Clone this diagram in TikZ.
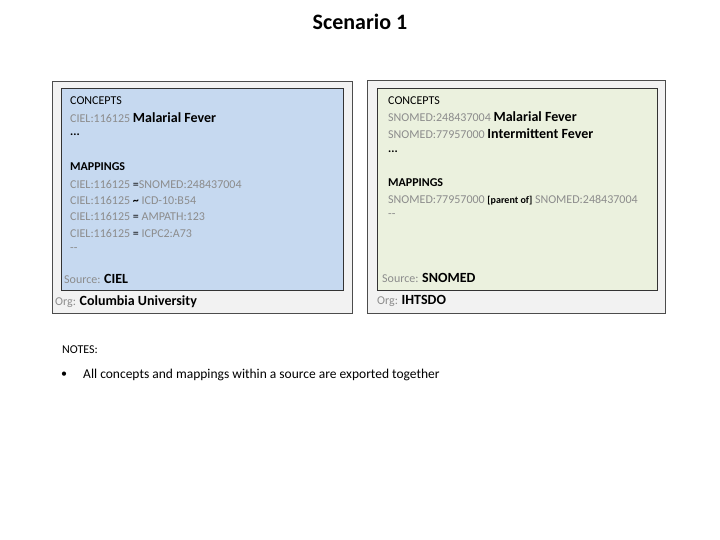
\documentclass[tikz,border=0pt]{standalone}
\usepackage{fontspec}
\setmainfont{Carlito}
\definecolor{gtext}{HTML}{8C8C8C}
\definecolor{bluefill}{HTML}{C6D9F0}
\definecolor{greenfill}{HTML}{EBF1DE}
\definecolor{outerfill}{HTML}{F2F2F2}
\begin{document}
\begin{tikzpicture}[x=1pt,y=-1pt,
  outer/.style={draw=black!70,fill=outerfill,line width=0.6pt},
  inner/.style={draw=black!80,fill=#1,line width=0.8pt},
  txt/.style={anchor=west,inner sep=0pt,font=\fontsize{12}{14}\selectfont},
  g/.style={txt,text=gtext},
  hd/.style={txt,font=\fontsize{12}{14}\selectfont}]
\newcommand{\bg}[1]{\textcolor{black}{\fontsize{14}{16}\selectfont\bfseries #1}}
\useasboundingbox (0,0) rectangle (720,540);
\node[font=\fontsize{22}{26}\selectfont\bfseries] (title) at (360,22) {Scenario 1};
% left
\draw[outer] (52,81) rectangle (352,313);
\draw[inner=bluefill] (61,88) rectangle (343,290);
\node[hd] (lc) at (70,101) {CONCEPTS};
\node[g] (lc1) at (70,118) {CIEL:116125 \bg{Malarial Fever}};
\node[hd] (ld) at (70,135) {\textbf{...}};
\node[hd] (lm) at (70,167) {\textbf{MAPPINGS}};
\node[g] (lm1) at (70,184) {CIEL:116125 \textcolor{black}{=}SNOMED:248437004};
\node[g] (lm2) at (70,200) {CIEL:116125 \textcolor{black}{\textbf{\textasciitilde}} ICD-10:B54};
\node[g] (lm3) at (70,216) {CIEL:116125 \textcolor{black}{=} AMPATH:123};
\node[g] (lm4) at (70,233) {CIEL:116125 \textcolor{black}{=} ICPC2:A73};
\node[g] (lm5) at (70,250) {{-}{-}};
\node[g] (ls) at (64,279) {Source: \bg{CIEL}};
\node[g] (lo) at (55,302) {Org: \bg{Columbia University}};
% right
\draw[outer] (367,80) rectangle (665,313);
\draw[inner=greenfill] (377,88) rectangle (657,290);
\node[hd] (rc) at (388,101) {CONCEPTS};
\node[g] (rc1) at (388,117) {SNOMED:248437004 \bg{Malarial Fever}};
\node[g] (rc2) at (388,134) {SNOMED:77957000 \bg{Intermittent Fever}};
\node[hd] (rd) at (388,152) {\textbf{...}};
\node[hd] (rm) at (388,183) {\textbf{MAPPINGS}};
\node[g] (rm1) at (388,200) {SNOMED:77957000 \textcolor{black}{\fontsize{10}{12}\selectfont\bfseries[parent of]} SNOMED:248437004};
\node[g] (rm2) at (388,216) {{-}{-}};
\node[g] (rs) at (382,278) {Source: \bg{SNOMED}};
\node[g] (ro) at (377,301) {Org: \bg{IHTSDO}};
% notes
\node[hd] (notes) at (62,350) {NOTES:};
\node[hd] (bul) at (61,375) {•};
\node[txt,font=\fontsize{13.5}{16}\selectfont] (n1) at (83,375) {All concepts and mappings within a source are exported together};
\end{tikzpicture}
\end{document}
